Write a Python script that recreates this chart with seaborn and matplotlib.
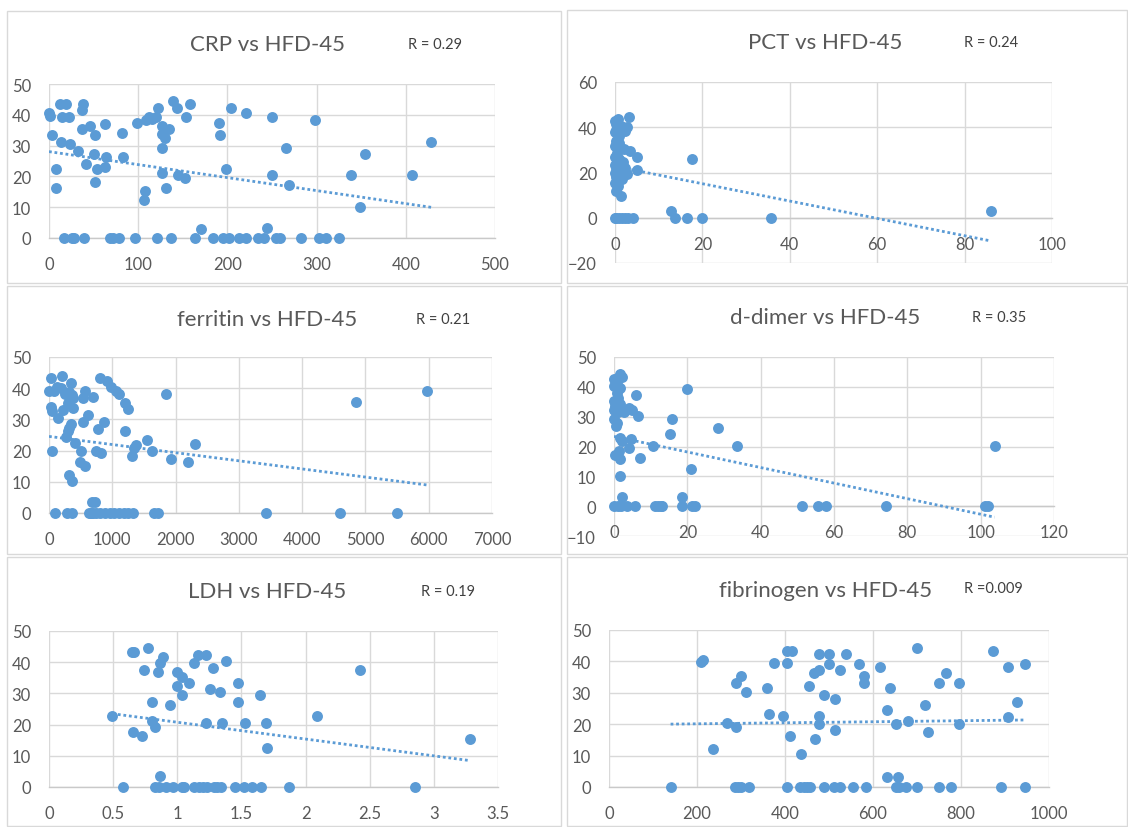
import numpy as np
import pandas as pd
import matplotlib
matplotlib.use("Agg")
import matplotlib.pyplot as plt
from matplotlib.patches import Rectangle
from matplotlib.ticker import FuncFormatter
import seaborn as sns

sns.set_style("white")
plt.rcParams['font.family'] = ['Lato', 'DejaVu Sans']

# ---------------- data (HFD-45 on y) ----------------
crp_pts = [(0, 40.7), (1, 39.5), (3.5, 33.4), (7.7, 22.5), (7.7, 16.1), (12, 43.5), (19.5, 43.5),
           (14.5, 39.3), (22.6, 39.3), (13.5, 31.2), (24, 30.5), (32, 28.3), (37.6, 43.5), (36.8, 41.4),
           (36.5, 35.4), (46, 36.3), (51.5, 33.4), (50.5, 27.4), (42, 24.1), (54, 22.4), (51.5, 18.1),
           (63.5, 26.2), (62.5, 23.2), (62.5, 37.1), (81.5, 34.2), (82.6, 26.2), (98.5, 37.2), (106, 12.2),
           (107.5, 15.3), (108.5, 38.4), (112, 39.2), (116, 38.6), (120.5, 39.2), (122.5, 42.2), (127, 36.5),
           (127, 33.8), (129.5, 32.6), (134.5, 35.4), (126.5, 29.2), (126.5, 21.2), (131.5, 16.2),
           (139.5, 44.5), (144, 42.1), (145, 20.4), (152.5, 19.4), (153.5, 39.3), (158, 43.5), (170, 3),
           (190.8, 37.2), (191.8, 33.4), (198.8, 22.5), (204.5, 42.2), (220.5, 40.5), (244.5, 3.1),
           (249.5, 39.3), (250.5, 20.3), (265.5, 29.2), (268.5, 17.3), (298, 38.4), (339, 20.3),
           (348.5, 10.1), (354, 27.4), (407, 20.3), (428.5, 31.2)]
crp_zero_x = [16.5, 25.5, 27.5, 39, 68.5, 71.5, 78.5, 96.5, 121.5, 137, 164, 184, 195.5, 202, 213,
              220.5, 234, 241, 254.5, 258.5, 283, 303, 310.5, 325.5]

pct_pts = [(3.2, 44.7), (0, 42.9), (0.6, 43.7), (0.2, 41.4), (1.3, 40.7), (2.7, 40), (2.3, 38.5),
           (0, 37.8), (0.9, 36.3), (0.2, 34), (0, 31.9), (0.6, 31.1), (2, 30.4), (3.5, 29.6), (5.1, 27),
           (0, 26.7), (0.9, 26), (0, 23.5), (0.6, 22.3), (2.3, 22), (0, 20), (1.3, 19.3), (2.7, 19.3),
           (0.2, 17.8), (0, 15.2), (0.6, 14.2), (0.2, 12), (1.4, 9.7), (5, 21.1), (17.7, 26), (12.8, 3.1),
           (86, 2.8), (0.3, 39), (1.0, 33), (0.4, 28.5), (1.8, 24.5), (0.3, 21), (1.5, 17)]
pct_zero_x = [0, 0.2, 0.9, 1.6, 2.3, 3, 4.2, 13.7, 16.5, 20, 35.7]

ferritin_pts = [(25, 43.3), (211, 44), (354, 41.8), (0, 39.1), (74, 39.1), (123, 40.5), (197, 40.1),
                (256, 38.3), (320, 38.9), (369, 37.8), (384, 36.8), (295, 35.2), (221, 33), (25, 34.1),
                (49, 32.7), (148, 30.4), (379, 33.6), (566, 39.1), (541, 36.8), (689, 37.3), (615, 31.5),
                (541, 29.3), (812, 43.3), (910, 42.3), (984, 40.5), (1058, 39.1), (1107, 38.1),
                (1205, 35.2), (1245, 33.4), (876, 29.3), (777, 27), (354, 28.5), (320, 27.4), (295, 26.2),
                (270, 24.3), (49, 20), (418, 22.5), (502, 20), (482, 16.4), (576, 15), (738, 20),
                (821, 19.3), (1205, 26.4), (1550, 23.5), (1377, 21.9), (1338, 20.9), (1633, 20),
                (1318, 18.2), (1845, 38.3), (1928, 17.2), (2204, 16.4), (2302, 22.1), (320, 12.2),
                (359, 10.1), (4845, 35.5), (5967, 39.1), (679, 3.6), (728, 3.6)]
ferritin_zero_x = [98, 280, 369, 630, 664, 689, 738, 812, 886, 959, 1033, 1107, 1181, 1254, 1328,
                   1663, 1722, 3428, 4599, 5499]

ddimer_pts = [(1.7, 44.4), (0, 42.5), (1.1, 43.1), (2.2, 43.3), (0, 40.3), (0.7, 40.8), (1.5, 39.7),
              (0.7, 38), (0, 35.3), (1.1, 36.4), (0.25, 33.6), (1.5, 34.2), (0, 32.1), (1.1, 31.4),
              (2.8, 31.7), (0, 29.1), (0.7, 28), (0.5, 26.9), (4, 33), (4.8, 32.1), (6.1, 37.2),
              (6.5, 30.2), (1.7, 23), (2.3, 21.9), (4.7, 22.4), (4, 19.4), (1.3, 18.5), (0.25, 17.1),
              (1.5, 15.7), (1.7, 10.2), (7.2, 16.3), (10.5, 20.1), (20, 39.4), (15.9, 29.1), (15.4, 24.1),
              (28.4, 26.3), (33.6, 20.1), (21.1, 12.4), (103.8, 20.1), (2.3, 3.1), (18.6, 3.1)]
ddimer_zero_x = [0, 1.1, 1.9, 3.6, 5.7, 11.1, 11.9, 12.8, 13.2, 18.6, 21.3, 22.1, 51.2, 55.6, 57.8,
                 74.1, 101.3, 102.1]

ldh_pts = [(0.494, 22.7), (0.645, 43.2), (0.66, 43.3), (0.768, 44.6), (0.738, 37.6), (0.889, 41.7),
           (0.864, 39.7), (0.852, 36.7), (1.0, 36.7), (1.034, 35.4), (1.09, 33.3), (0.998, 32.4),
           (1.04, 29.5), (1.13, 39.6), (1.162, 42.4), (1.223, 42.4), (1.281, 38.3), (1.38, 40.5),
           (1.252, 31.4), (1.33, 30.3), (1.47, 33.3), (1.477, 27.4), (1.644, 29.6), (0.8, 27.4),
           (0.94, 26.3), (0.8, 21.3), (0.823, 19.1), (0.654, 17.6), (0.724, 16.3), (1.223, 20.4),
           (1.349, 20.4), (1.525, 20.4), (1.688, 20.4), (1.70, 12.4), (2.09, 22.7), (2.426, 37.6),
           (0.864, 3.5), (3.278, 15.4)]
ldh_zero_x = [0.58, 0.83, 0.86, 0.91, 0.97, 1.04, 1.05, 1.13, 1.17, 1.2, 1.23, 1.29, 1.31, 1.34,
              1.45, 1.52, 1.58, 1.65, 1.87, 2.85]

fib_pts = [(209, 39.7), (214, 40.5), (235.5, 12.1), (268, 20.3), (289, 19), (289, 33), (301, 35.2),
           (311.5, 30.2), (360, 31.5), (364, 23.2), (376, 39.4), (396, 22.5), (404, 39.4), (405.6, 43.4),
           (416, 43.4), (411, 16.1), (435.5, 10.5), (455, 32.2), (465.5, 36.2), (477, 37.3), (477, 42.3),
           (500, 42.3), (500, 39.2), (468, 15.3), (477, 22.5), (477, 20), (488, 29.3), (513, 28.1),
           (513, 18.2), (524, 37.3), (538, 42.3), (568, 39.2), (580.5, 35.2), (580.5, 33), (617, 38.3),
           (637.6, 31.5), (632, 24.4), (651.6, 20.1), (679.4, 20.9), (700, 44.2), (718, 26.2),
           (725, 17.4), (749, 33), (766.5, 36.2), (796.5, 33), (796.5, 20.1), (632, 3.2), (657, 3.2),
           (872, 43.4), (907.5, 38.3), (946, 39.2), (926.5, 27.2), (907.5, 22.2)]
fib_zero_x = [140, 287, 294, 301, 318, 404, 435, 443, 450, 456, 488, 511, 524, 555, 584, 652, 658,
              675, 701, 749, 778, 892, 946]

titles = ["CRP vs HFD-45", "PCT vs HFD-45", "ferritin vs HFD-45",
          "d-dimer vs HFD-45", "LDH vs HFD-45", "fibrinogen vs HFD-45"]
r_labels = ["R = 0.29", "R = 0.24", "R = 0.21", "R = 0.35", "R = 0.19", "R =0.009"]
x_ticks = [list(range(0, 501, 100)), list(range(0, 101, 20)), list(range(0, 7001, 1000)),
           list(range(0, 121, 20)), [0, 0.5, 1, 1.5, 2, 2.5, 3, 3.5], list(range(0, 1001, 200))]
y_ticks = [list(range(0, 51, 10)), list(range(-20, 61, 20)), list(range(0, 51, 10)),
           list(range(-10, 51, 10)), list(range(0, 51, 10)), list(range(0, 51, 10))]

datasets = [(crp_pts, crp_zero_x), (pct_pts, pct_zero_x), (ferritin_pts, ferritin_zero_x),
            (ddimer_pts, ddimer_zero_x), (ldh_pts, ldh_zero_x), (fib_pts, fib_zero_x)]

# ---------------- layout (pixels) ----------------
W, H = 1128, 828
axes_px = [(49, 85, 495, 239), (615, 83, 1052, 264), (49, 358, 492, 514),
           (614, 358, 1054, 537), (49, 632, 498, 788), (609, 631, 1049, 788)]
panel_px = [(7, 12, 561, 284), (567, 11, 1127, 284), (7, 287, 561, 555),
            (567, 287, 1127, 555), (7, 558, 561, 827), (567, 558, 1127, 827)]
title_px = [(267, 45), (825, 43), (267, 320), (825, 318), (267, 592), (826, 591)]
r_px = [(435, 45), (991, 43), (443, 320), (999, 318), (448, 592), (993, 589)]

BLUE = "#5B9BD5"
GRID = "#D9D9D9"
TXT = "#595959"

fig = plt.figure(figsize=(W / 100, H / 100), dpi=100)
fig.patch.set_facecolor("white")

for (x0, y0, x1, y1) in panel_px:
    fig.patches.append(Rectangle((x0 / W, 1 - y1 / H), (x1 - x0) / W, (y1 - y0) / H,
                                 transform=fig.transFigure, fill=False, ec=GRID, lw=1.0))

for i in range(6):
    pts, zx = datasets[i]
    df = pd.DataFrame({"x": [p[0] for p in pts] + list(zx),
                       "y": [p[1] for p in pts] + [0.0] * len(zx)})
    x0, y0, x1, y1 = axes_px[i]
    ax = fig.add_axes([x0 / W, 1 - y1 / H, (x1 - x0) / W, (y1 - y0) / H])
    ax.set_facecolor("none")
    ax.set_axisbelow(True)
    sns.scatterplot(data=df, x="x", y="y", ax=ax, color=BLUE, s=62, linewidth=0, zorder=3,
                    clip_on=False)
    sns.regplot(data=df, x="x", y="y", ax=ax, scatter=False, ci=None, truncate=True,
                line_kws=dict(color=BLUE, lw=2.0, ls=(0, (1, 1.0)), zorder=4))
    xt, yt = x_ticks[i], y_ticks[i]
    ax.set_xlim(xt[0], xt[-1])
    ax.set_ylim(yt[0], yt[-1])
    ax.set_xticks(xt)
    ax.set_yticks(yt)
    ax.xaxis.set_major_formatter(FuncFormatter(lambda v, p: f"{v:g}"))
    ax.set_xlabel("")
    ax.set_ylabel("")
    ax.grid(True, color=GRID, lw=1.0)
    for s in ("top", "right", "left"):
        ax.spines[s].set_visible(False)
    ax.spines["bottom"].set_position(("data", 0))
    ax.spines["bottom"].set_color("#C9C9C9")
    ax.spines["bottom"].set_linewidth(1.0)
    ax.spines["bottom"].set_zorder(1)
    ax.tick_params(axis="x", length=0, pad=13, labelsize=12, labelcolor=TXT)
    ax.tick_params(axis="y", length=0, pad=13, labelsize=12, labelcolor=TXT)
    tx, ty = title_px[i]
    fig.text(tx / W, 1 - ty / H, titles[i], ha="center", va="center", fontsize=16, color=TXT)
    rx, ry = r_px[i]
    fig.text(rx / W, 1 - ry / H, r_labels[i], ha="center", va="center", fontsize=10.5, color="#404040")

fig.savefig("out.png", dpi=100, facecolor="white")
